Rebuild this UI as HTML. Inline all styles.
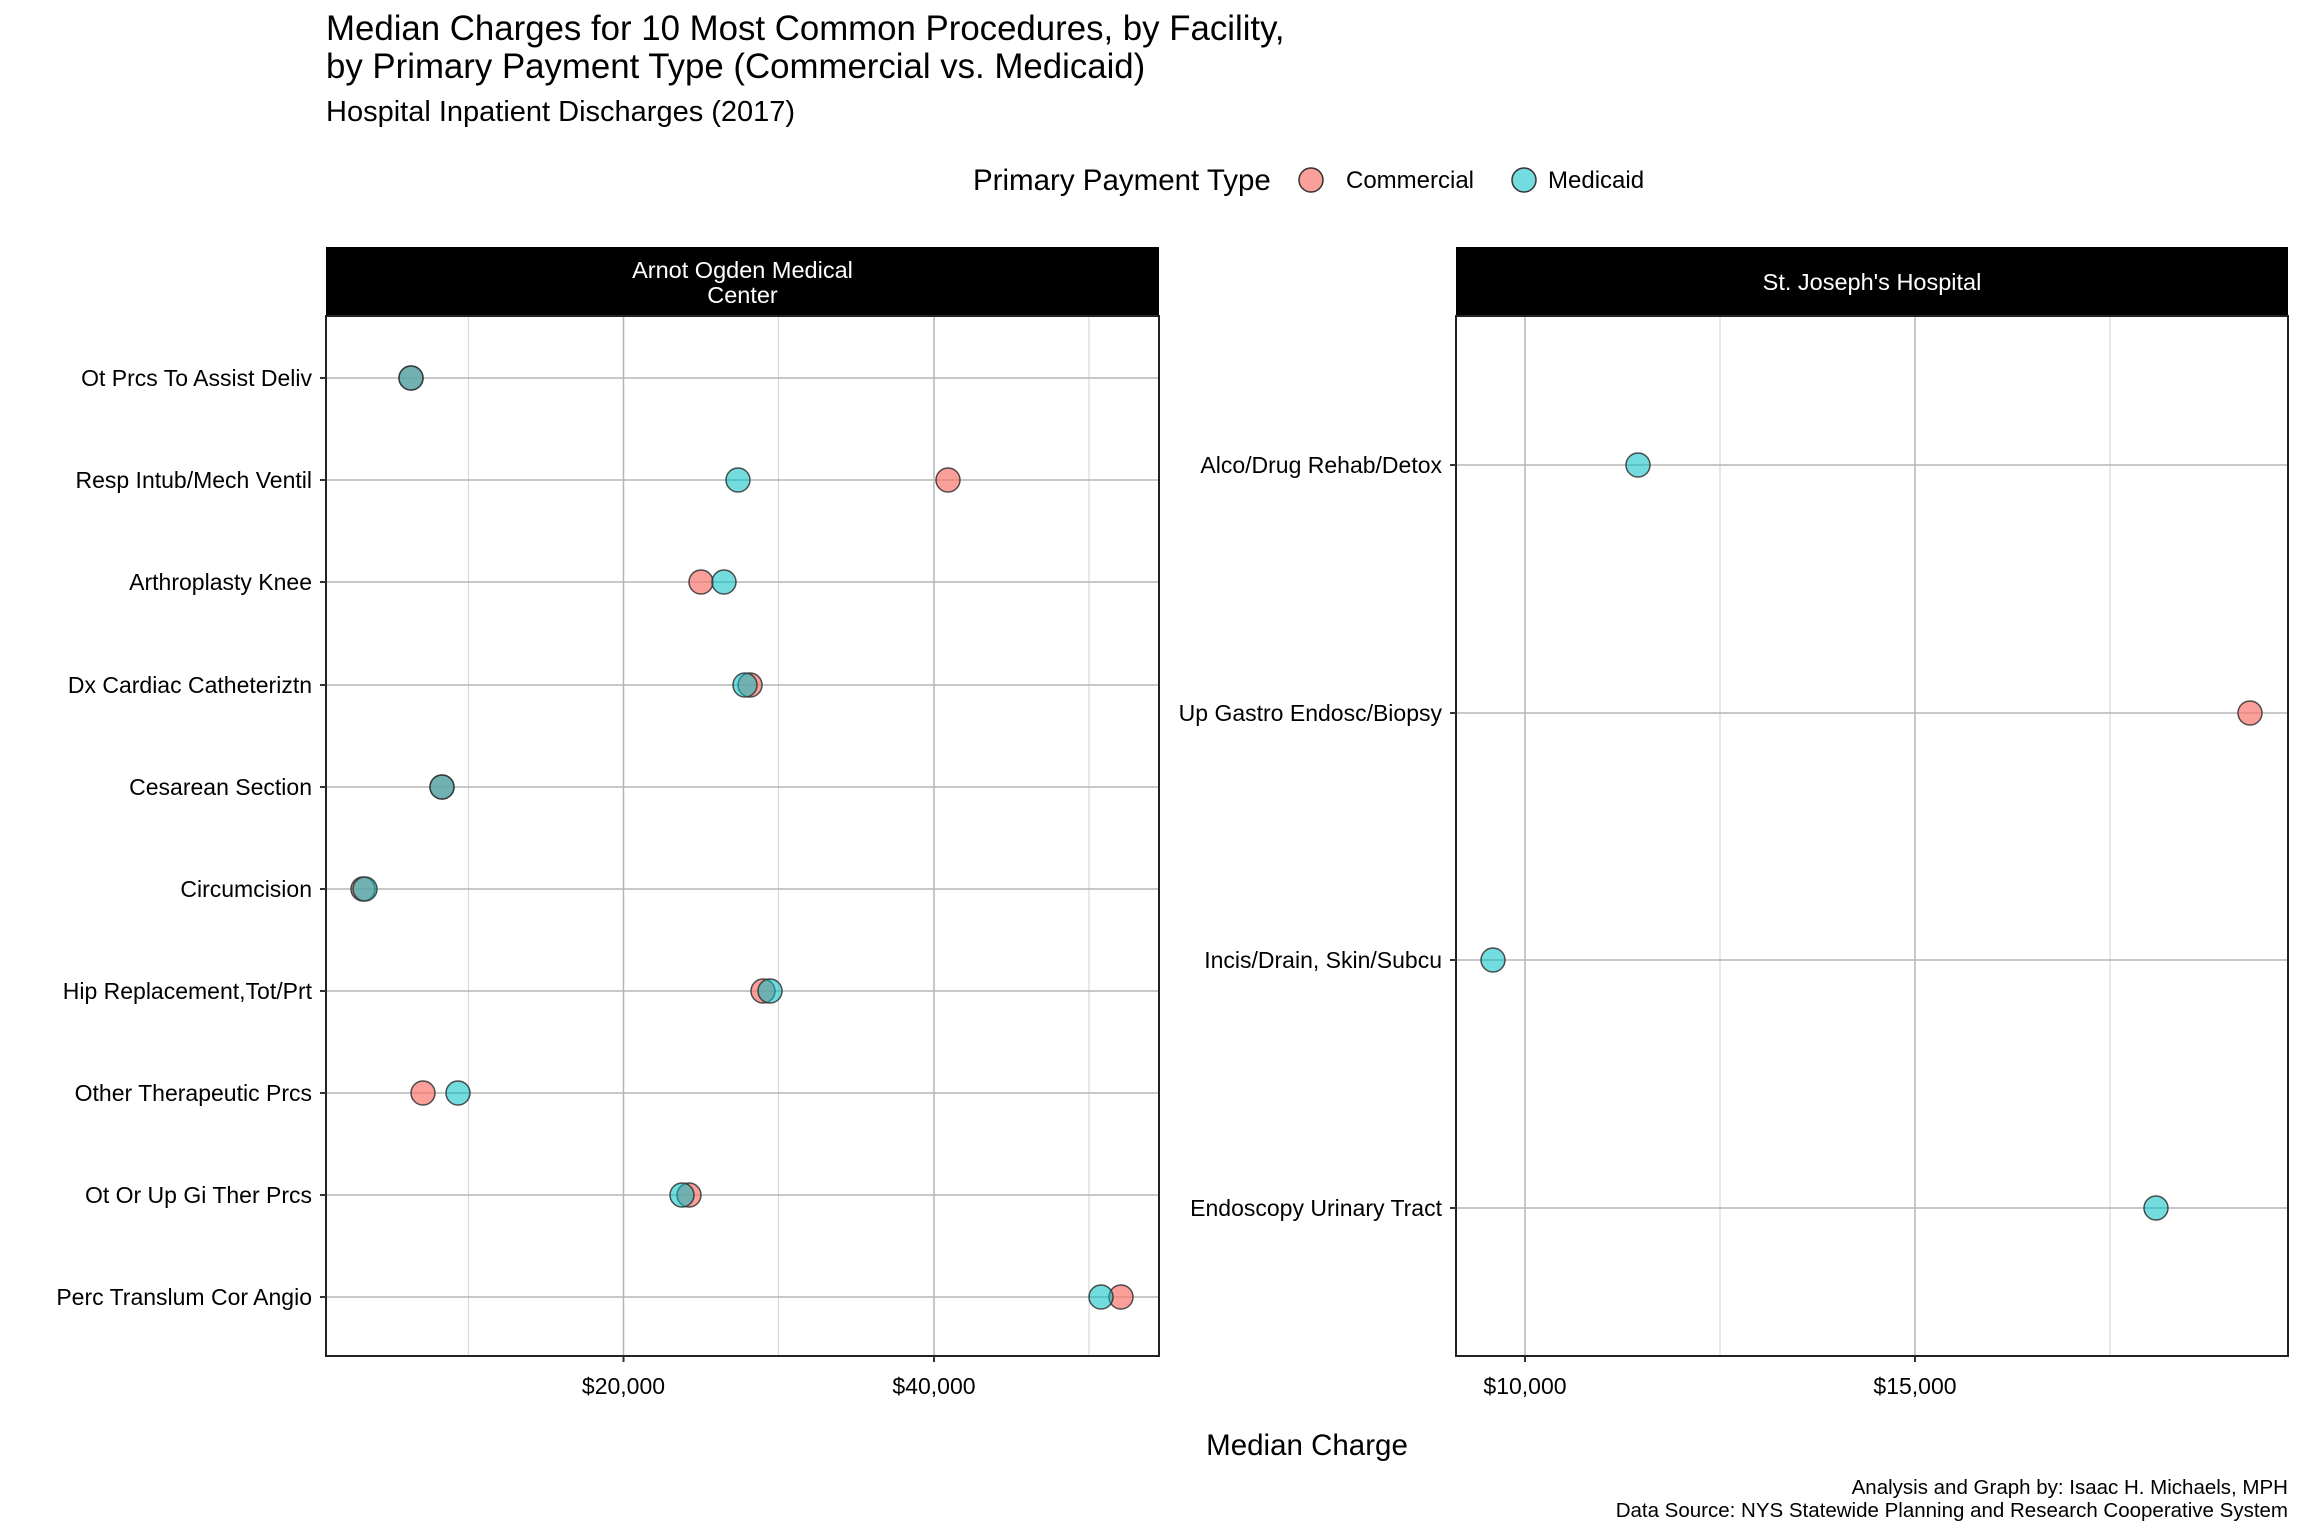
<!DOCTYPE html>
<html><head><meta charset="utf-8"><style>
html,body{margin:0;padding:0;background:#fff;}
svg{display:block;font-family:"Liberation Sans",Arial,sans-serif;}
</style></head><body>
<svg width="2304" height="1536" viewBox="0 0 2304 1536" xmlns="http://www.w3.org/2000/svg">
<rect width="2304" height="1536" fill="#fff"/>
<text x="326" y="40" font-size="34.8" fill="#000">Median Charges for 10 Most Common Procedures, by Facility,</text>
<text x="326" y="78" font-size="34.8" fill="#000">by Primary Payment Type (Commercial vs. Medicaid)</text>
<text x="326" y="121" font-size="29" fill="#000">Hospital Inpatient Discharges (2017)</text>

<text x="973" y="190" font-size="29.5" fill="#000">Primary Payment Type</text>
<circle cx="1311" cy="180" r="12" fill="#F8766D" fill-opacity="0.7" stroke="#333" stroke-width="1.5"/>
<text x="1346" y="188" font-size="24" fill="#000">Commercial</text>
<circle cx="1524" cy="180" r="12" fill="#00BFC4" fill-opacity="0.55" stroke="#333" stroke-width="1.5"/>
<text x="1548" y="188" font-size="24" fill="#000">Medicaid</text>

<!-- Left panel -->
<rect x="326" y="247" width="833" height="69" fill="#000"/>
<text x="742.5" y="278" font-size="23.5" fill="#fff" text-anchor="middle">Arnot Ogden Medical</text>
<text x="742.5" y="303" font-size="23.5" fill="#fff" text-anchor="middle">Center</text>
<g stroke="#d9d9d9" stroke-width="1.2">
<line x1="468.5" y1="317" x2="468.5" y2="1356"/>
<line x1="778.5" y1="317" x2="778.5" y2="1356"/>
<line x1="1089" y1="317" x2="1089" y2="1356"/>
</g>
<g stroke="#b5b5b5" stroke-width="1.5">
<line x1="623.5" y1="317" x2="623.5" y2="1356"/>
<line x1="934" y1="317" x2="934" y2="1356"/>
<line x1="326" y1="378" x2="1159" y2="378"/>
<line x1="326" y1="480" x2="1159" y2="480"/>
<line x1="326" y1="582" x2="1159" y2="582"/>
<line x1="326" y1="685" x2="1159" y2="685"/>
<line x1="326" y1="787" x2="1159" y2="787"/>
<line x1="326" y1="889" x2="1159" y2="889"/>
<line x1="326" y1="991" x2="1159" y2="991"/>
<line x1="326" y1="1093" x2="1159" y2="1093"/>
<line x1="326" y1="1195" x2="1159" y2="1195"/>
<line x1="326" y1="1297" x2="1159" y2="1297"/>
</g>
<rect x="326" y="316" width="833" height="1040" fill="none" stroke="#222" stroke-width="2"/>
<g stroke="#333" stroke-width="2">
<line x1="320" y1="378" x2="326" y2="378"/><line x1="320" y1="480" x2="326" y2="480"/>
<line x1="320" y1="582" x2="326" y2="582"/><line x1="320" y1="685" x2="326" y2="685"/>
<line x1="320" y1="787" x2="326" y2="787"/><line x1="320" y1="889" x2="326" y2="889"/>
<line x1="320" y1="991" x2="326" y2="991"/><line x1="320" y1="1093" x2="326" y2="1093"/>
<line x1="320" y1="1195" x2="326" y2="1195"/><line x1="320" y1="1297" x2="326" y2="1297"/>
<line x1="623.5" y1="1356" x2="623.5" y2="1362"/><line x1="934" y1="1356" x2="934" y2="1362"/>
</g>
<g font-size="23" fill="#000" text-anchor="end">
<text x="312" y="386">Ot Prcs To Assist Deliv</text>
<text x="312" y="488">Resp Intub/Mech Ventil</text>
<text x="312" y="590">Arthroplasty Knee</text>
<text x="312" y="693">Dx Cardiac Catheteriztn</text>
<text x="312" y="795">Cesarean Section</text>
<text x="312" y="897">Circumcision</text>
<text x="312" y="999">Hip Replacement,Tot/Prt</text>
<text x="312" y="1101">Other Therapeutic Prcs</text>
<text x="312" y="1203">Ot Or Up Gi Ther Prcs</text>
<text x="312" y="1305">Perc Translum Cor Angio</text>
</g>
<g font-size="23" fill="#000" text-anchor="middle">
<text x="623.5" y="1394">$20,000</text>
<text x="934" y="1394">$40,000</text>
</g>
<g stroke="#333" stroke-width="1.5" stroke-opacity="0.85">
<g fill="#F8766D" fill-opacity="0.7">
<circle cx="411" cy="378" r="12"/>
<circle cx="948" cy="480" r="12"/>
<circle cx="701" cy="582" r="12"/>
<circle cx="750" cy="685" r="12"/>
<circle cx="442" cy="787" r="12"/>
<circle cx="363" cy="889" r="12"/>
<circle cx="763" cy="991" r="12"/>
<circle cx="423" cy="1093" r="12"/>
<circle cx="689" cy="1195" r="12"/>
<circle cx="1121" cy="1297" r="12"/>
</g>
<g fill="#00BFC4" fill-opacity="0.55">
<circle cx="411" cy="378" r="12"/>
<circle cx="738" cy="480" r="12"/>
<circle cx="724" cy="582" r="12"/>
<circle cx="745" cy="685" r="12"/>
<circle cx="442" cy="787" r="12"/>
<circle cx="365" cy="889" r="12"/>
<circle cx="770" cy="991" r="12"/>
<circle cx="458" cy="1093" r="12"/>
<circle cx="682" cy="1195" r="12"/>
<circle cx="1101" cy="1297" r="12"/>
</g>
</g>

<!-- Right panel -->
<rect x="1456" y="247" width="832" height="69" fill="#000"/>
<text x="1872" y="290" font-size="23.5" fill="#fff" text-anchor="middle">St. Joseph's Hospital</text>
<g stroke="#d9d9d9" stroke-width="1.2">
<line x1="1720" y1="317" x2="1720" y2="1356"/>
<line x1="2110" y1="317" x2="2110" y2="1356"/>
</g>
<g stroke="#b5b5b5" stroke-width="1.5">
<line x1="1525" y1="317" x2="1525" y2="1356"/>
<line x1="1915" y1="317" x2="1915" y2="1356"/>
<line x1="1456" y1="465" x2="2288" y2="465"/>
<line x1="1456" y1="713" x2="2288" y2="713"/>
<line x1="1456" y1="960" x2="2288" y2="960"/>
<line x1="1456" y1="1208" x2="2288" y2="1208"/>
</g>
<rect x="1456" y="316" width="832" height="1040" fill="none" stroke="#222" stroke-width="2"/>
<g stroke="#333" stroke-width="2">
<line x1="1450" y1="465" x2="1456" y2="465"/><line x1="1450" y1="713" x2="1456" y2="713"/>
<line x1="1450" y1="960" x2="1456" y2="960"/><line x1="1450" y1="1208" x2="1456" y2="1208"/>
<line x1="1525" y1="1356" x2="1525" y2="1362"/><line x1="1915" y1="1356" x2="1915" y2="1362"/>
</g>
<g font-size="23" fill="#000" text-anchor="end">
<text x="1442" y="473">Alco/Drug Rehab/Detox</text>
<text x="1442" y="721">Up Gastro Endosc/Biopsy</text>
<text x="1442" y="968">Incis/Drain, Skin/Subcu</text>
<text x="1442" y="1216">Endoscopy Urinary Tract</text>
</g>
<g font-size="23" fill="#000" text-anchor="middle">
<text x="1525" y="1394">$10,000</text>
<text x="1915" y="1394">$15,000</text>
</g>
<g stroke="#333" stroke-width="1.5" stroke-opacity="0.85">
<circle cx="2250" cy="713" r="12" fill="#F8766D" fill-opacity="0.7"/>
<circle cx="1638" cy="465" r="12" fill="#00BFC4" fill-opacity="0.55"/>
<circle cx="1493" cy="960" r="12" fill="#00BFC4" fill-opacity="0.55"/>
<circle cx="2156" cy="1208" r="12" fill="#00BFC4" fill-opacity="0.55"/>
</g>

<text x="1307" y="1455" font-size="29.5" fill="#000" text-anchor="middle">Median Charge</text>
<text x="2288" y="1494" font-size="20.5" fill="#000" text-anchor="end">Analysis and Graph by: Isaac H. Michaels, MPH</text>
<text x="2288" y="1517" font-size="20.5" fill="#000" text-anchor="end">Data Source: NYS Statewide Planning and Research Cooperative System</text>
</svg>
</body></html>
